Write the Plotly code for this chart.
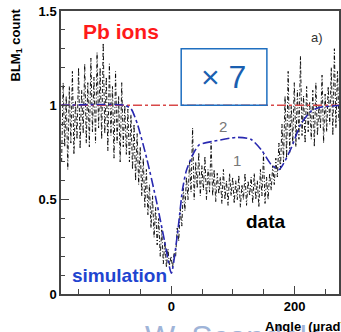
import plotly.graph_objects as go

# ---------------- data ----------------
angles = [-178 + 5 * i for i in range(91)]
data_lo = [0.70, 0.78, 0.66, 0.80, 0.74, 0.82, 0.77, 0.85, 0.80, 0.78,
           0.86, 0.80, 0.88, 0.82, 0.85, 0.76, 0.84, 0.72, 0.80, 0.70,
           0.78, 0.74, 0.70, 0.66, 0.60, 0.58, 0.52, 0.46, 0.42, 0.35,
           0.30, 0.26, 0.20, 0.16, 0.14, 0.15, 0.14, 0.20, 0.28, 0.36,
           0.44, 0.50, 0.54, 0.50, 0.56, 0.52, 0.55, 0.50, 0.54, 0.52,
           0.49, 0.53, 0.48, 0.50, 0.47, 0.52, 0.48, 0.50, 0.46, 0.50,
           0.47, 0.52, 0.48, 0.50, 0.46, 0.52, 0.48, 0.50, 0.55, 0.58,
           0.62, 0.66, 0.70, 0.72, 0.75, 0.80, 0.78, 0.82, 0.84, 0.80,
           0.86, 0.82, 0.78, 0.84, 0.88, 0.80, 0.86, 0.90, 0.84, 0.88,
           0.92]
data_hi = [1.12, 1.05, 1.10, 1.18, 1.02, 1.20, 1.08, 1.22, 1.12, 1.25,
           1.15, 1.28, 1.20, 1.33, 1.15, 1.22, 1.10, 1.18, 1.05, 1.12,
           1.00, 0.98, 0.95, 0.90, 0.85, 0.78, 0.72, 0.66, 0.58, 0.52,
           0.46, 0.40, 0.34, 0.28, 0.24, 0.20, 0.22, 0.35, 0.45, 0.56,
           0.62, 0.70, 0.88, 0.70, 0.75, 0.68, 0.73, 0.66, 0.80, 0.66,
           0.64, 0.62, 0.66, 0.60, 0.64, 0.62, 0.60, 0.63, 0.58, 0.64,
           0.60, 0.62, 0.64, 0.60, 0.66, 0.74, 0.62, 0.64, 0.68, 0.72,
           0.80, 0.90, 1.05, 1.18, 1.00, 1.12, 1.08, 1.26, 1.05, 1.10,
           1.02, 1.08, 1.12, 1.00, 1.16, 1.06, 1.10, 1.20, 1.30, 1.18,
           1.25]

sim_x = [-180, -75, -65, -55, -40, -24, -11, 0, 10, 18, 24, 35, 45, 69,
         106, 129, 147, 161, 175, 194, 210, 227, 242, 275]
sim_y = [1.0, 1.0, 0.98, 0.90, 0.72, 0.49, 0.28, 0.11, 0.32, 0.55, 0.65,
         0.74, 0.79, 0.81, 0.83, 0.82, 0.76, 0.69, 0.66, 0.77, 0.90, 0.97,
         0.99, 1.0]

ref_x = [-179, 272]
ref_y = [1.0, 1.0]

x_tickvals = [0, 200]
x_ticktext = ["0", "200"]
y_tickvals = [0, 0.5, 1, 1.5]
y_ticktext = ["0", "0.5", "1", "1.5"]

# dense sawtooth through the noisy band
zx, zy = [], []
for i, a in enumerate(angles):
    zx += [a, a + 2.5]
    zy += [data_lo[i], data_hi[i]]

FONT = "Arial, Liberation Sans, sans-serif"

fig = go.Figure()
fig.add_trace(go.Scatter(x=zx, y=zy, mode="lines",
                         line=dict(color="black", width=0.9, dash="4px,2px,1px,2px"),
                         hoverinfo="skip", showlegend=False))
fig.add_trace(go.Scatter(x=ref_x, y=ref_y, mode="lines",
                         line=dict(color="#d84848", width=1.5, dash="dashdot"),
                         showlegend=False))
fig.add_trace(go.Scatter(x=sim_x, y=sim_y, mode="lines",
                         line=dict(color="#2828b0", width=1.6, dash="dashdot",
                                   shape="spline", smoothing=0.6),
                         showlegend=False))

fig.update_layout(
    width=341, height=332,
    margin=dict(l=61, r=0, t=11, b=38),
    plot_bgcolor="white", paper_bgcolor="white",
    font=dict(family=FONT, color="black"),
    xaxis=dict(range=[-179, 272], showgrid=False, zeroline=False,
               showline=True, linecolor="#444", linewidth=1.5, mirror=True,
               tickvals=x_tickvals, ticktext=x_ticktext,
               ticks="inside", ticklen=8, tickcolor="#444",
               tickfont=dict(size=13, family=FONT, weight="bold"),
               minor=dict(dtick=50, ticks="inside", ticklen=5, tickcolor="#444")),
    yaxis=dict(range=[0, 1.5], showgrid=False, zeroline=False,
               showline=True, linecolor="#444", linewidth=1.5, mirror=True,
               tickvals=y_tickvals, ticktext=y_ticktext,
               ticks="inside", ticklen=8, tickcolor="#444",
               tickfont=dict(size=13, family=FONT, weight="bold"),
               minor=dict(dtick=0.1, ticks="inside", ticklen=4, tickcolor="#444")),
)

fig.add_shape(type="rect", xref="x", yref="y", x0=16, x1=155, y0=1.0, y1=1.30,
              line=dict(color="#1f6fc0", width=1.5), fillcolor="rgba(0,0,0,0)")

ann = [
    dict(text="× 7", x=85, y=1.15, xref="x", yref="y", size=32, color="#1a5fb0", bold=False),
    dict(text="Pb ions", x=-82, y=1.39, xref="x", yref="y", size=21, color="#ff1a1a", bold=True),
    dict(text="data", x=153, y=0.385, xref="x", yref="y", size=19, color="black", bold=True),
    dict(text="simulation", x=-84, y=0.10, xref="x", yref="y", size=19, color="#1f45d0", bold=True),
    dict(text="2", x=83, y=0.89, xref="x", yref="y", size=15, color="#777", bold=False),
    dict(text="1", x=107, y=0.71, xref="x", yref="y", size=15, color="#777", bold=False),
    dict(text="a)", x=236, y=1.36, xref="x", yref="y", size=13, color="#333", bold=False),
]
for a in ann:
    fig.add_annotation(text=("<b>%s</b>" % a["text"]) if a["bold"] else a["text"],
                       x=a["x"], y=a["y"], xref=a["xref"], yref=a["yref"],
                       showarrow=False, font=dict(size=a["size"], color=a["color"], family=FONT))

# watermark (partially off-canvas)
fig.add_annotation(text="W. Scandale", xref="paper", yref="paper", x=0.295, y=-0.082,
                   xanchor="left", yanchor="top", showarrow=False,
                   font=dict(size=32, color="#9fb4d8", family=FONT))
fig.add_annotation(text="<b>Angle  (µrad)</b>", xref="paper", yref="paper", x=0.725, y=-0.083,
                   xanchor="left", yanchor="top", showarrow=False,
                   font=dict(size=13, color="black", family=FONT))
fig.add_annotation(text="<b>Angle  (µrad)</b>", xref="paper", yref="paper", x=0.725, y=1.045,
                   xanchor="left", yanchor="bottom", showarrow=False,
                   font=dict(size=13, color="black", family=FONT))
fig.add_annotation(text="<b>BLM<sub>1</sub> count</b>", xref="paper", yref="paper",
                   x=-0.16, y=0.88, xanchor="center", yanchor="middle", textangle=-90,
                   showarrow=False, font=dict(size=13, color="black", family=FONT))

fig.write_html("out.html", config={"displayModeBar": False},
               post_script="document.body.style.margin='0px';")
